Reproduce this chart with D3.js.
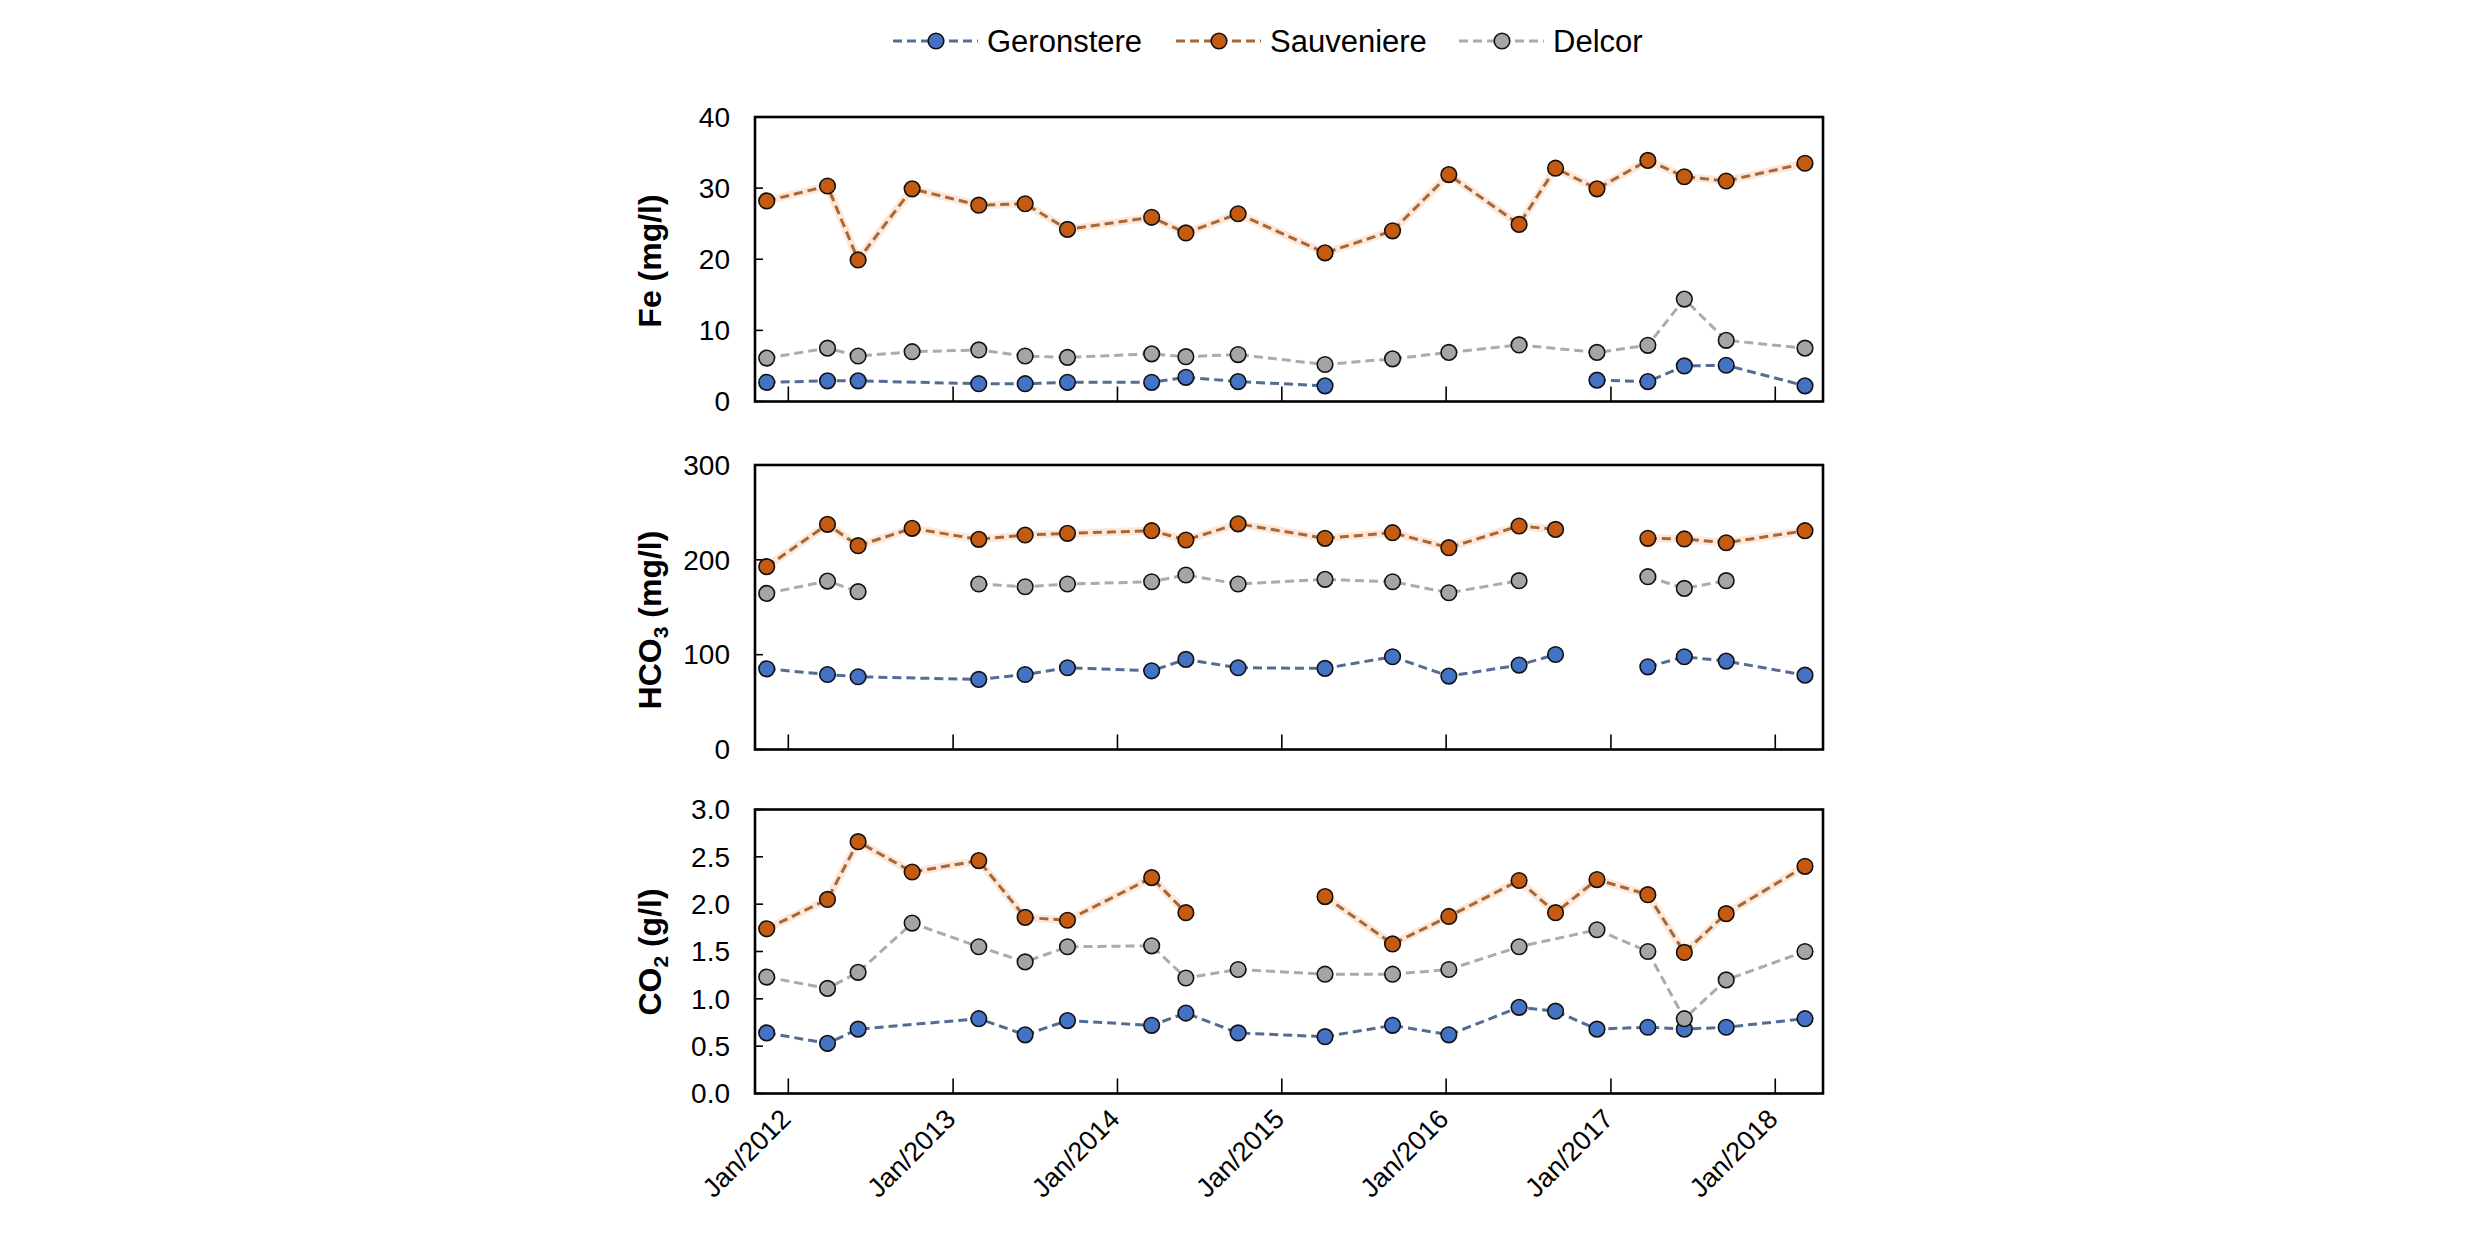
<!DOCTYPE html>
<html><head><meta charset="utf-8">
<script src="https://cdn.jsdelivr.net/npm/d3@7"></script>
<style>
body{margin:0;background:#fff}
text{font-family:"Liberation Sans",Arial,sans-serif;fill:#000}
</style>
</head><body>
<svg id="c" width="2480" height="1234"></svg>
<script>
// null = no sample, line breaks ; NA = no sample, line bridges over it
const NA = NaN;

const sampleDates = ["2011-11-14","2012-03-28","2012-06-04","2012-10-02","2013-02-27","2013-06-10","2013-09-12",
  "2014-03-18","2014-06-02","2014-09-26","2015-04-07","2015-09-04","2016-01-07","2016-06-11","2016-08-31",
  "2016-12-01","2017-03-24","2017-06-13","2017-09-14","2018-03-08"];

const seriesNames = ["Geronstere","Sauveniere","Delcor"];

const yearTickDates = ["2012-01-01","2013-01-01","2014-01-01","2015-01-01","2016-01-01","2017-01-01","2018-01-01"];
const yearTickLabels = ["Jan/2012","Jan/2013","Jan/2014","Jan/2015","Jan/2016","Jan/2017","Jan/2018"];

// Fe (mg/l)
const feGeronstere = [2.7,2.9,2.9,NA,2.5,2.5,2.7,2.7,3.4,2.8,2.2,null,null,null,null,3.0,2.8,5.0,5.1,2.2];
const feSauveniere = [28.2,30.3,19.9,29.9,27.6,27.8,24.2,25.9,23.7,26.4,20.9,24.0,31.9,24.9,32.8,29.9,33.9,31.6,31.0,33.5];
const feDelcor     = [6.1,7.5,6.4,7.0,7.25,6.4,6.2,6.7,6.3,6.6,5.2,6.0,6.9,7.95,NA,6.9,7.9,14.4,8.6,7.5];
const feTicks = [0,10,20,30,40];

// HCO3 (mg/l)
const hco3Geronstere = [85.1,79.1,76.7,NA,73.9,79.1,86.2,83.0,95.0,86.2,85.5,97.8,77.4,89.0,100.2,null,87.2,97.8,93.2,78.4];
const hco3Sauveniere = [192.8,237.4,214.9,233.2,221.6,226.2,227.9,230.7,220.9,238.0,222.7,228.6,212.8,235.7,232.1,null,222.7,222.0,218.0,230.7];
const hco3Delcor     = [164.6,177.6,166.4,null,174.5,171.6,174.5,176.9,184.0,174.5,179.4,176.9,165.3,178.0,null,null,182.2,169.9,178.0,null];
const hco3Ticks = [0,100,200,300];

// CO2 (g/l)
const co2Geronstere = [0.64,0.53,0.68,NA,0.79,0.62,0.77,0.72,0.85,0.64,0.60,0.72,0.62,0.91,0.87,0.68,0.70,0.68,0.70,0.79];
const co2Sauveniere = [1.74,2.05,2.66,2.34,2.46,1.86,1.83,2.28,1.91,null,2.08,1.58,1.87,2.25,1.91,2.26,2.10,1.49,1.90,2.40];
const co2Delcor     = [1.23,1.11,1.28,1.80,1.55,1.39,1.55,1.56,1.22,1.31,1.26,1.26,1.31,1.55,NA,1.73,1.50,0.79,1.20,1.50];
const co2Ticks = [0,0.5,1.0,1.5,2.0,2.5,3.0];

const colors = {
  Geronstere:{fill:"#4472C4", line:"#546C94"},
  Sauveniere:{fill:"#C55A11", line:"#A96735"},
  Delcor:{fill:"#A5A5A5", line:"#ABABAB"}
};

const panels = [
  {title:[{t:"Fe (mg/l)"}], ticks:feTicks, fmt:d3.format("d"), data:[feGeronstere,feSauveniere,feDelcor], top:117, bottom:401.5, labelY:261},
  {title:[{t:"HCO"},{t:"3",sub:true},{t:" (mg/l)"}], ticks:hco3Ticks, fmt:d3.format("d"), data:[hco3Geronstere,hco3Sauveniere,hco3Delcor], top:465, bottom:749.5, labelY:620},
  {title:[{t:"CO"},{t:"2",sub:true},{t:" (g/l)"}], ticks:co2Ticks, fmt:d3.format(".1f"), data:[co2Geronstere,co2Sauveniere,co2Delcor], top:809.5, bottom:1093.5, labelY:952}
];

const svg = d3.select("#c");
const L = 755, R = 1823;
const parse = d3.utcParse("%Y-%m-%d");
const x = d3.scaleUtc().domain([Date.UTC(2011,9,19), Date.UTC(2018,3,17)]).range([L,R]);
const dates = sampleDates.map(parse);
const tickDates = yearTickDates.map(parse);

const R_MARK = 7.8;

panels.forEach((p, pi) => {
  const y = d3.scaleLinear().domain([p.ticks[0], p.ticks[p.ticks.length-1]]).range([p.bottom, p.top]);
  const g = svg.append("g");

  // y ticks (inward) + labels
  g.selectAll(".yt").data(p.ticks).join("line")
    .attr("x1", L).attr("x2", L+8).attr("y1", d=>y(d)).attr("y2", d=>y(d))
    .attr("stroke","#000").attr("stroke-width",1.6);
  g.selectAll(".yl").data(p.ticks).join("text")
    .attr("x", L-25).attr("y", d=>y(d)).attr("dy","0.35em")
    .attr("text-anchor","end").attr("font-size",28)
    .text(d=>p.fmt(d));

  // x ticks (inward)
  g.selectAll(".xt").data(tickDates).join("line")
    .attr("x1", d=>x(d)).attr("x2", d=>x(d)).attr("y1", p.bottom).attr("y2", p.bottom-15)
    .attr("stroke","#000").attr("stroke-width",1.6);

  // series
  seriesNames.forEach((name, si) => {
    const vals = p.data[si];
    const pts = vals.map((v,i)=>({d:dates[i], v})).filter(o => !Number.isNaN(o.v));
    const line = d3.line().defined(o => o.v !== null).x(o=>x(o.d)).y(o=>y(o.v));
    if (name === "Sauveniere") {
      g.append("path").attr("d", line(pts)).attr("fill","none")
        .attr("stroke","#F8CBAD").attr("stroke-opacity",0.45).attr("stroke-width",8);
    }
    g.append("path").attr("d", line(pts)).attr("fill","none")
      .attr("stroke", colors[name].line).attr("stroke-width",3).attr("stroke-dasharray","9,5");
  });
  seriesNames.forEach((name, si) => {
    const vals = p.data[si];
    const pts = vals.map((v,i)=>({d:dates[i], v})).filter(o => o.v !== null && !Number.isNaN(o.v));
    g.selectAll(".m"+si).data(pts).join("circle")
      .attr("cx", o=>x(o.d)).attr("cy", o=>y(o.v)).attr("r", R_MARK)
      .attr("fill", colors[name].fill).attr("stroke","#111").attr("stroke-width",1.6);
  });

  // frame
  g.append("rect").attr("x",L).attr("y",p.top).attr("width",R-L).attr("height",p.bottom-p.top)
    .attr("fill","none").attr("stroke","#000").attr("stroke-width",2.6);

  // y title
  const t = g.append("text").attr("transform",`translate(661,${p.labelY}) rotate(-90)`)
    .attr("text-anchor","middle").attr("font-size",32).attr("font-weight","bold");
  p.title.forEach(part => {
    const ts = t.append("tspan").text(part.t);
    if (part.sub) ts.attr("font-size",21).attr("dy",7);
    else if (t.selectAll("tspan").size() > 1) ts.attr("dy",-7);
  });

  // x labels only on last panel
  if (pi === panels.length-1) {
    g.selectAll(".xl").data(tickDates).join("text")
      .attr("transform", (d)=>`translate(${x(d)+4},${p.bottom+27}) rotate(-45)`)
      .attr("text-anchor","end").attr("font-size",27)
      .text((d,i)=>yearTickLabels[i]);
  }
});

// legend
const legendStarts = [893, 1176, 1459];
const ly = 41;
seriesNames.forEach((name, i) => {
  const x0 = legendStarts[i];
  svg.append("line").attr("x1",x0).attr("x2",x0+85).attr("y1",ly).attr("y2",ly)
    .attr("stroke",colors[name].line).attr("stroke-width",3).attr("stroke-dasharray","9,5");
  svg.append("circle").attr("cx",x0+43).attr("cy",ly).attr("r",R_MARK)
    .attr("fill",colors[name].fill).attr("stroke","#111").attr("stroke-width",1.6);
  svg.append("text").attr("x",x0+94).attr("y",ly).attr("dy","0.36em")
    .attr("font-size",31).text(name);
});
</script>
</body></html>
